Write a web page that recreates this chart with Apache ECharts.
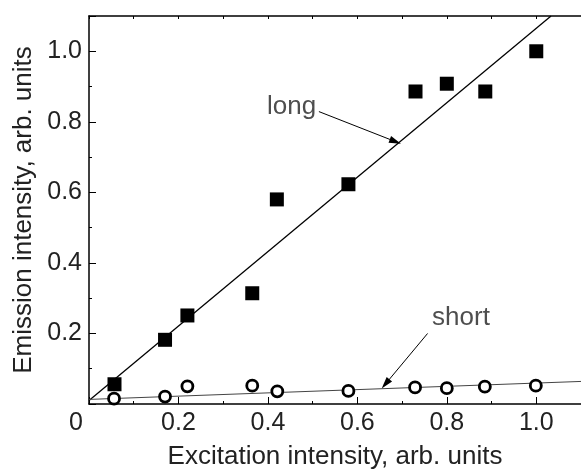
<!DOCTYPE html>
<html>
<head>
<meta charset="utf-8">
<script src="https://cdn.jsdelivr.net/npm/echarts@6/dist/echarts.min.js"></script>
<style>
  html, body { margin: 0; padding: 0; background: #fff; }
  #chart { width: 581px; height: 469px; }
</style>
</head>
<body>
<div id="chart"></div>
<script>
// Excitation intensity (arb. units) and emission of the long / short components
const longX  = [0.057, 0.17, 0.22, 0.365, 0.42, 0.58, 0.73, 0.80, 0.886, 1.0];
const longY  = [0.056, 0.182, 0.251, 0.314, 0.58, 0.623, 0.886, 0.908, 0.886, 1.0];
const shortX = [0.056, 0.17, 0.22, 0.365, 0.421, 0.58, 0.729, 0.80, 0.885, 0.999];
const shortY = [0.015, 0.021, 0.05, 0.052, 0.036, 0.037, 0.047, 0.045, 0.049, 0.052];

// Linear fits (end points)
const longFitX  = [0, 1.033];
const longFitY  = [0.01, 1.1];
const shortFitX = [0, 1.1];
const shortFitY = [0.013, 0.064];

const xTicks = [0, 0.2, 0.4, 0.6, 0.8, 1.0];
const yTicks = [0.2, 0.4, 0.6, 0.8, 1.0];

const FONT = '"Liberation Sans", Arial, sans-serif';
const TXT = '#222';
const TICK_FS = 25;
const TITLE_FS = 26;

const zip = (a, b) => a.map((v, i) => [v, b[i]]);
const near = (v, list) => list.some(t => Math.abs(t - v) < 1e-6);

const chart = echarts.init(document.getElementById('chart'), null, { renderer: 'canvas' });

const arrowLine = (from, to) => ({
  type: 'line',
  xAxisIndex: 0, yAxisIndex: 0,
  data: [],
  silent: true,
  markLine: {
    silent: true,
    symbol: ['none', 'triangle'],
    symbolSize: [7, 12],
    label: { show: false },
    lineStyle: { color: '#000', width: 1, type: 'solid' },
    data: [[{ coord: from }, { coord: to }]]
  }
});

chart.setOption({
  animation: false,
  grid: { left: 89, right: 0, top: 16, bottom: 65, containLabel: false, outerBoundsMode: 'none' },
  xAxis: [{
    type: 'value', min: 0, max: 1.1, interval: 0.2,
    position: 'bottom',
    name: 'Excitation intensity, arb. units',
    nameLocation: 'middle', nameGap: 40,
    nameTextStyle: { fontFamily: FONT, fontSize: TITLE_FS, color: TXT },
    axisLine: { show: true, lineStyle: { color: '#000', width: 1.5 } },
    axisTick: { show: true, inside: true, length: 7, lineStyle: { color: '#000', width: 1 } },
    minorTick: { show: true, splitNumber: 2, length: 3, lineStyle: { color: '#000', width: 1 } },
    splitLine: { show: false },
    axisLabel: {
      fontFamily: FONT, fontSize: TICK_FS, color: TXT, margin: 7,
      showMaxLabel: false,
      formatter: v => {
        if (!near(v, xTicks)) return '';
        if (Math.abs(v) < 1e-6) return '{z|0}';
        return v.toFixed(1);
      },
      rich: { z: { fontFamily: FONT, fontSize: TICK_FS, color: TXT, padding: [0, 26, 0, 0] } }
    }
  }, {
    type: 'value', min: 0, max: 1.1, interval: 0.1,
    position: 'top',
    axisLine: { show: true, lineStyle: { color: '#000', width: 1.5 } },
    axisTick: { show: true, inside: true, length: 3, lineStyle: { color: '#000', width: 1 } },
    axisLabel: { show: false },
    splitLine: { show: false }
  }],
  yAxis: [{
    type: 'value', min: 0, max: 1.1, interval: 0.2,
    name: 'Emission intensity, arb. units',
    nameLocation: 'middle', nameGap: 52,
    nameTextStyle: { fontFamily: FONT, fontSize: TITLE_FS, color: TXT },
    axisLine: { show: true, lineStyle: { color: '#000', width: 1.5 } },
    axisTick: { show: true, inside: true, length: 7, lineStyle: { color: '#000', width: 1 } },
    minorTick: { show: true, splitNumber: 2, length: 3, lineStyle: { color: '#000', width: 1 } },
    splitLine: { show: false },
    axisLabel: {
      fontFamily: FONT, fontSize: TICK_FS, color: TXT, margin: 7,
      showMinLabel: false, showMaxLabel: false,
      formatter: v => near(v, yTicks) ? v.toFixed(1) : ''
    }
  }],
  series: [
    {
      name: 'long fit', type: 'line', data: zip(longFitX, longFitY),
      showSymbol: false, silent: true, z: 2,
      lineStyle: { color: '#000', width: 1.3 }
    },
    {
      name: 'short fit', type: 'line', data: zip(shortFitX, shortFitY),
      showSymbol: false, silent: true, z: 2,
      lineStyle: { color: '#444', width: 1 }
    },
    {
      name: 'long', type: 'scatter', data: zip(longX, longY),
      symbol: 'rect', symbolSize: 14, z: 3,
      itemStyle: { color: '#000', opacity: 1 }
    },
    {
      name: 'short', type: 'scatter', data: zip(shortX, shortY),
      symbol: 'circle', symbolSize: 11, z: 3,
      itemStyle: { color: '#fff', borderColor: '#000', borderWidth: 2.8, opacity: 1 }
    },
    arrowLine([0.514, 0.829], [0.685, 0.744]),
    arrowLine([0.757, 0.2], [0.663, 0.057]),
    {
      type: 'scatter', silent: true, z: 4,
      symbolSize: 0,
      data: [
        { value: [0.398, 0.843], label: { formatter: 'long' } },
        { value: [0.767, 0.245], label: { formatter: 'short' } }
      ],
      label: {
        show: true, position: 'right', distance: 0,
        fontFamily: FONT, fontSize: TITLE_FS, color: TXT
      }
    }
  ]
});
</script>
</body>
</html>
